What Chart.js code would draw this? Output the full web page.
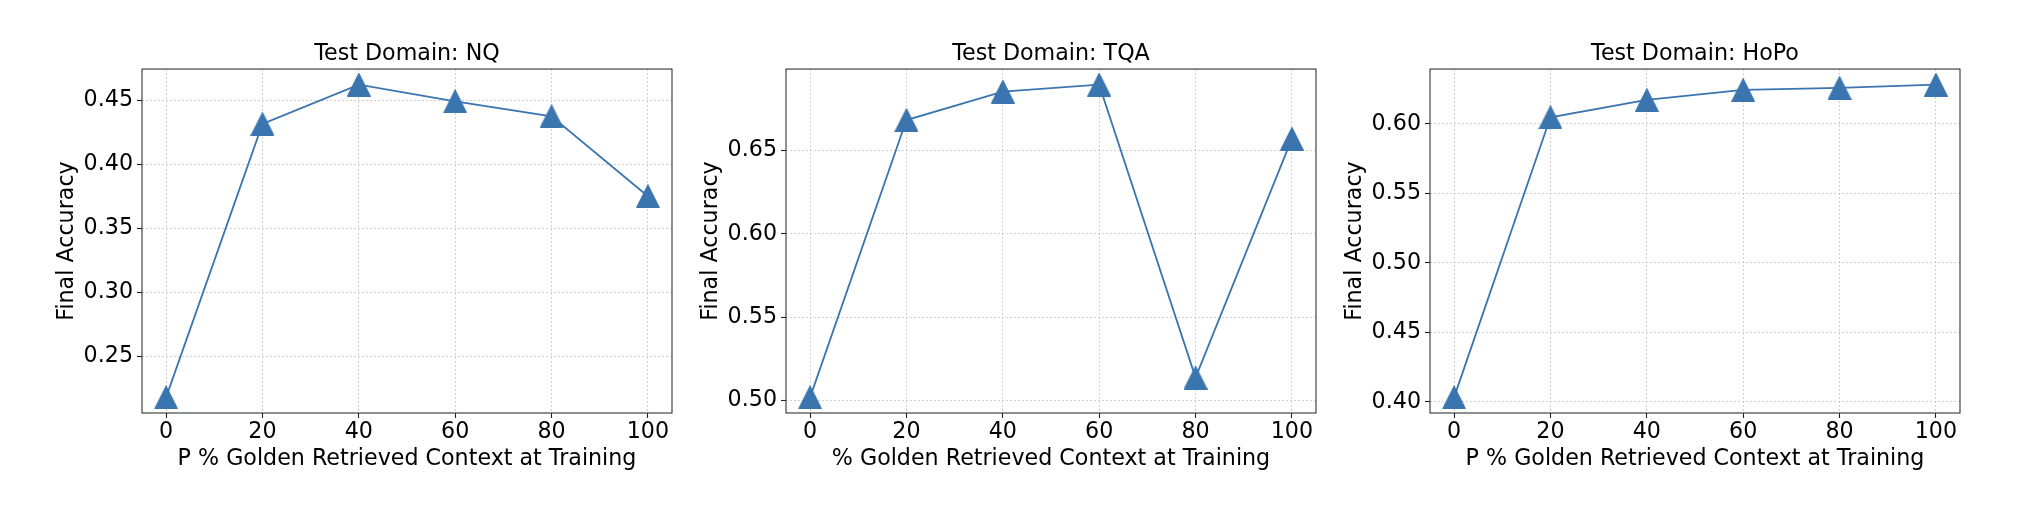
<!DOCTYPE html>
<html>
<head>
<meta charset="utf-8">
<script src="https://cdn.jsdelivr.net/npm/chart.js@4.4.0/dist/chart.umd.min.js"></script>
<style>
  html, body { margin: 0; padding: 0; background: #fff; }
  #wrap { position: relative; width: 2022px; height: 506px; overflow: hidden; }
  canvas { position: absolute; top: 0; }
</style>
</head>
<body>
<div id="wrap">
  <canvas id="c0" width="814" height="506" style="left:0px"></canvas>
  <canvas id="c1" width="814" height="506" style="left:644px"></canvas>
  <canvas id="c2" width="814" height="506" style="left:1288px"></canvas>
</div>
<script>
// data
const trainingPct = [0, 20, 40, 60, 80, 100];
const nqAcc = [0.2177, 0.4318, 0.4625, 0.4495, 0.4377, 0.3752];
const tqaAcc = [0.5020, 0.6683, 0.6853, 0.6895, 0.5139, 0.6571];
const hopoAcc = [0.4032, 0.6048, 0.6173, 0.6245, 0.6260, 0.6283];

const xTicks = [0, 20, 40, 60, 80, 100];
const nqTicks = [0.25, 0.30, 0.35, 0.40, 0.45];
const tqaTicks = [0.50, 0.55, 0.60, 0.65];
const hopoTicks = [0.40, 0.45, 0.50, 0.55, 0.60];

const titles = ['Test Domain: NQ', 'Test Domain: TQA', 'Test Domain: HoPo'];
const xTitles = [
  'P % Golden Retrieved Context at Training',
  '% Golden Retrieved Context at Training',
  'P % Golden Retrieved Context at Training'
];
const yTitle = 'Final Accuracy';

const BLUE = '#3a75b0';
const FONT = { family: 'DejaVu Sans', size: 22.2 };

Chart.defaults.font.family = FONT.family;
Chart.defaults.color = '#000';

// matplotlib style 5% margins around the data
function withMargin(values) {
  const lo = Math.min(...values), hi = Math.max(...values);
  const pad = (hi - lo) * 0.05;
  return { min: lo - pad, max: hi + pad };
}

// centred "^" marker like matplotlib
function triangleMarker(size, color) {
  const c = document.createElement('canvas');
  c.width = size;
  c.height = size;
  const g = c.getContext('2d');
  g.beginPath();
  g.moveTo(size / 2, 0.5);
  g.lineTo(size - 0.5, size - 0.5);
  g.lineTo(0.5, size - 0.5);
  g.closePath();
  g.fillStyle = color;
  g.fill();
  g.strokeStyle = color;
  g.lineWidth = 1;
  g.stroke();
  return c;
}

const framePlugin = {
  id: 'frame',
  afterDraw(chart) {
    const { ctx, chartArea: a } = chart;
    ctx.save();
    ctx.strokeStyle = '#333';
    ctx.lineWidth = 1.1;
    ctx.strokeRect(a.left, a.top, a.right - a.left, a.bottom - a.top);
    ctx.restore();
  }
};

const marker = triangleMarker(24, BLUE);

function makePanel(id, values, yTicks, title, xTitle) {
  const xr = withMargin(trainingPct);
  const yr = withMargin(values);
  const grid = {
    color: '#c4c4c4',
    lineWidth: 0.8,
    tickLength: 5,
    tickColor: '#222',
    tickWidth: 1.1
  };

  new Chart(document.getElementById(id), {
    type: 'line',
    data: {
      datasets: [{
        data: trainingPct.map((x, i) => ({ x: x, y: values[i] })),
        borderColor: BLUE,
        borderWidth: 1.8,
        pointStyle: marker,
        pointRadius: 10,
        pointHoverRadius: 10,
        fill: false,
        tension: 0
      }]
    },
    options: {
      responsive: false,
      animation: false,
      events: [],
      plugins: {
        legend: { display: false },
        tooltip: { enabled: false },
        title: {
          display: true,
          text: title,
          color: '#000',
          font: { size: FONT.size, weight: 'normal' },
          padding: { top: 40.7, bottom: 1.7 }
        }
      },
      scales: {
        x: {
          type: 'linear',
          min: xr.min,
          max: xr.max,
          afterBuildTicks: s => { s.ticks = xTicks.map(v => ({ value: v })); },
          afterFit: s => { s.height = 93; },
          ticks: {
            padding: 0.7,
            font: { size: FONT.size },
            maxRotation: 0,
            autoSkip: false,
            callback: v => String(v)
          },
          grid: grid,
          border: { display: false, dash: [2, 2] },
          title: {
            display: true,
            text: xTitle,
            font: { size: FONT.size },
            padding: { top: 0, bottom: 33.7 }
          }
        },
        y: {
          type: 'linear',
          min: yr.min,
          max: yr.max,
          afterBuildTicks: s => { s.ticks = yTicks.map(v => ({ value: v })); },
          afterFit: s => { s.width = 142; },
          ticks: {
            padding: 4,
            font: { size: FONT.size },
            autoSkip: false,
            callback: v => v.toFixed(2)
          },
          grid: grid,
          border: { display: false, dash: [2, 2] },
          title: {
            display: true,
            text: yTitle,
            font: { size: FONT.size },
            padding: { top: 54, bottom: 0 }
          }
        },
        // empty right-hand axis, same width as the left one, so the title centres over the plot
        spacer: {
          type: 'linear',
          position: 'right',
          afterFit: s => { s.width = 142; },
          ticks: { display: false },
          grid: { display: false },
          border: { display: false }
        }
      }
    },
    plugins: [framePlugin]
  });
}

makePanel('c0', nqAcc, nqTicks, titles[0], xTitles[0]);
makePanel('c1', tqaAcc, tqaTicks, titles[1], xTitles[1]);
makePanel('c2', hopoAcc, hopoTicks, titles[2], xTitles[2]);
</script>
</body>
</html>
